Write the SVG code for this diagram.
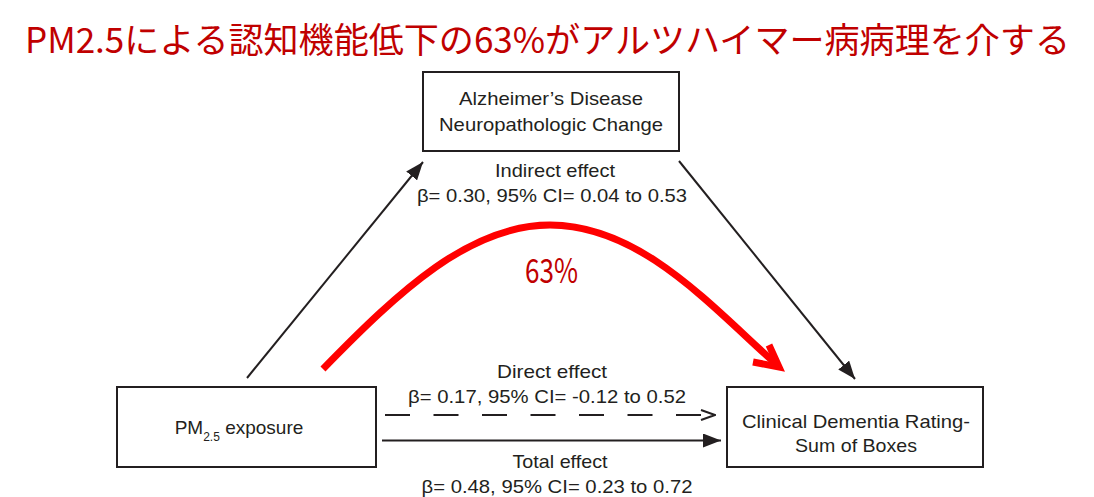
<svg xmlns="http://www.w3.org/2000/svg" width="1094" height="497" viewBox="0 0 1094 497">
<style>
.box{fill:#fff;stroke:#231f20;stroke-width:2}
.lbl{font-family:"Liberation Sans",Arial,sans-serif;font-size:19px;fill:#231f20;text-anchor:middle}
.ln{stroke:#231f20;stroke-width:2;fill:none}
.red{stroke:#ff0000;stroke-width:7;fill:none;stroke-linejoin:miter}
.ttl{font-family:"Noto Sans CJK JP","Noto Sans",sans-serif;fill:#c00000}
</style>
<defs>
<marker id="tri" viewBox="0 0 18 14" refX="18" refY="7" markerWidth="18" markerHeight="14" markerUnits="userSpaceOnUse" orient="auto">
<path d="M0,0 L18,7 L0,14 Z" fill="#231f20"/>
</marker>
<marker id="open" viewBox="0 0 16 12" refX="15" refY="6" markerWidth="16" markerHeight="12" markerUnits="userSpaceOnUse" orient="auto">
<path d="M1,1 L15,6 L1,11" fill="none" stroke="#231f20" stroke-width="2"/>
</marker>
</defs>
<rect width="1094" height="497" fill="#fff"/>
<text class="ttl" x="25" y="53" font-size="35" textLength="1045" lengthAdjust="spacingAndGlyphs">PM2.5による認知機能低下の63%がアルツハイマー病病理を介する</text>

<g id="connectors">
<line class="ln" x1="247" y1="378" x2="423" y2="162" marker-end="url(#tri)"/>
<line class="ln" x1="679" y1="161" x2="855" y2="379" marker-end="url(#tri)"/>
<line class="ln" x1="385" y1="415" x2="715" y2="415" stroke-dasharray="25 23.5" marker-end="url(#open)"/>
<line class="ln" x1="382" y1="440.5" x2="721" y2="440.5" marker-end="url(#tri)"/>
<path class="red" d="M323,369 C400,290 470,225 550,225 C640,225 710,305 776,364"/>
<path class="red" d="M769,345 L779,367 L753,362"/>
</g>

<g id="node-ad">
<rect class="box" x="423" y="72" width="256" height="79"/>
<text class="lbl" x="551" y="105" textLength="184" lengthAdjust="spacingAndGlyphs">Alzheimer’s Disease</text>
<text class="lbl" x="551" y="131" textLength="224" lengthAdjust="spacingAndGlyphs">Neuropathologic Change</text>
</g>

<g id="node-pm">
<rect class="box" x="117" y="387" width="259" height="80"/>
<text class="lbl" x="239" y="434" text-anchor="middle">PM<tspan font-size="12" dy="7">2.5</tspan><tspan dy="-7"> exposure</tspan></text>
</g>

<g id="node-cdr">
<rect class="box" x="727" y="387" width="256" height="80"/>
<text class="lbl" x="856" y="428" textLength="228" lengthAdjust="spacingAndGlyphs">Clinical Dementia Rating-</text>
<text class="lbl" x="856" y="452" textLength="122" lengthAdjust="spacingAndGlyphs">Sum of Boxes</text>
</g>

<g id="labels">
<text class="lbl" x="555" y="177" textLength="120" lengthAdjust="spacingAndGlyphs">Indirect effect</text>
<text class="lbl" x="552" y="202" textLength="270" lengthAdjust="spacingAndGlyphs">β= 0.30, 95% CI= 0.04 to 0.53</text>
<text class="lbl" x="552" y="378" textLength="110" lengthAdjust="spacingAndGlyphs">Direct effect</text>
<text class="lbl" x="547" y="403" textLength="278" lengthAdjust="spacingAndGlyphs">β= 0.17, 95% CI= -0.12 to 0.52</text>
<text class="lbl" x="560" y="468" textLength="95" lengthAdjust="spacingAndGlyphs">Total effect</text>
<text class="lbl" x="557" y="493" textLength="271" lengthAdjust="spacingAndGlyphs">β= 0.48, 95% CI= 0.23 to 0.72</text>
<text class="ttl" x="525" y="283" font-size="34" textLength="53" lengthAdjust="spacingAndGlyphs">63%</text>
</g>
</svg>
